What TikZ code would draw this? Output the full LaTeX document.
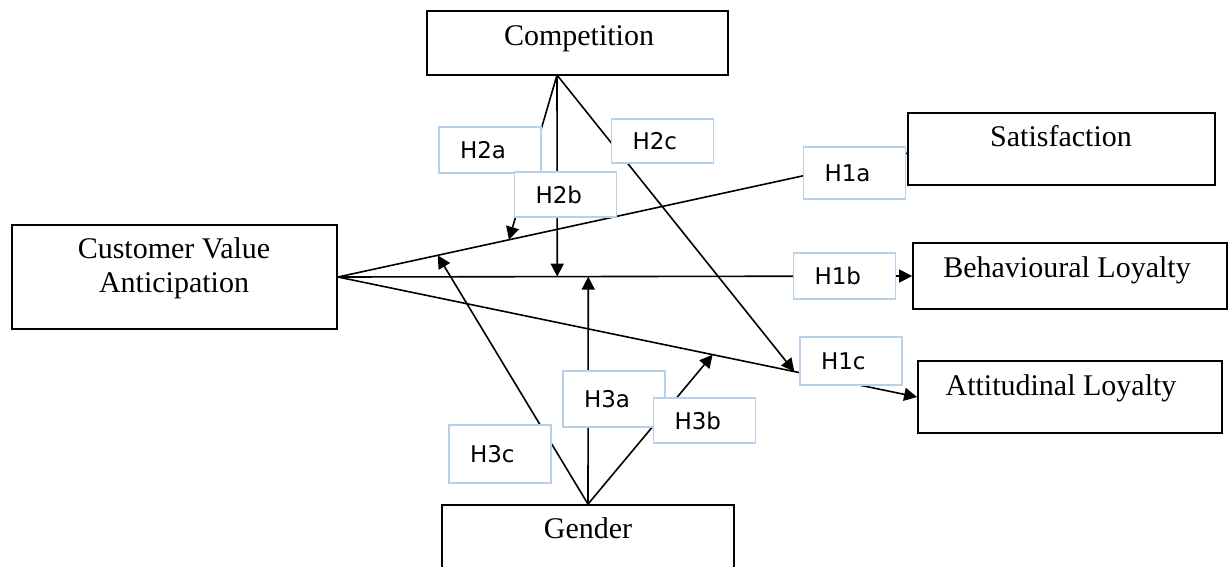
\documentclass[tikz,border=0pt]{standalone}
\usepackage{fontspec}
\setmainfont{Liberation Serif}
\newfontfamily\hypfont{DejaVu Sans}
\usetikzlibrary{arrows.meta}
\definecolor{hypblue}{RGB}{185,208,236}

\begin{document}
\begin{tikzpicture}[x=1pt,y=-1pt,
  construct/.style={draw,line width=1.8pt,inner sep=0pt},
  ctext/.style={font=\fontsize{30}{34}\selectfont,anchor=base,align=center},
  hyp/.style={draw=hypblue,line width=1.2pt,fill=white,
    font=\hypfont\fontsize{23}{26}\selectfont,align=left,
    text width=60pt,inner xsep=21pt,inner ysep=0pt,minimum height=#1},
  link/.style={line width=1.6pt,-{Triangle[length=13pt,width=13pt]}}]
\clip (0,0) rectangle (1229,566);

\node[construct,minimum width=301pt,minimum height=64pt] (comp) at (577.5,43) {};
\node[construct,minimum width=307pt,minimum height=72pt] (sat) at (1061.5,149) {};
\node[construct,minimum width=314pt,minimum height=66pt] (beh) at (1070,276) {};
\node[construct,minimum width=304pt,minimum height=72pt] (att) at (1070,397) {};
\node[construct,minimum width=325pt,minimum height=104pt] (cva) at (174.5,277) {};
\node[construct,minimum width=292pt,minimum height=110pt] (gen) at (588,560) {};

\node[ctext] (comp-t) at (579,45) {Competition};
\node[ctext] (sat-t) at (1061,146) {Satisfaction};
\node[ctext] (beh-t) at (1067,277) {Behavioural Loyalty};
\node[ctext] (att-t) at (1061,395) {Attitudinal Loyalty};
\node[ctext,anchor=center] (cva-t) at (174,268) {Customer Value\\Anticipation};
\node[ctext] (gen-t) at (588,538) {Gender};

\coordinate (c-out) at (557,75);
\coordinate (s-in) at (908,153);
\path (cva.east) -- (s-in) coordinate[pos=0.175] (m3c) coordinate[pos=0.30] (m2a);
\path (cva.east) -- (beh.west) coordinate[pos=0.382] (m2b) coordinate[pos=0.436] (m3a);
\path (cva.east) -- (att.west) coordinate[pos=0.647] (m3b) coordinate[pos=0.788] (m2c);

\draw[link] (cva.east) -- (s-in);
\draw[link] (cva.east) -- (beh.west);
\draw[link] (cva.east) -- (att.west);
\draw[link] (c-out) -- (m2a);
\draw[link] (c-out) -- (m2b);
\draw[link] (c-out) -- (m2c);
\draw[link] (gen.north) -- (m3a);
\draw[link] (gen.north) -- (m3b);
\draw[link] (gen.north) -- (m3c);

\node[hyp=46pt] (h2a) at (490,150) {H2a};
\node[hyp=44pt] (h2c) at (662.5,141) {H2c};
\node[hyp=45pt] (h2b) at (565.5,194.5) {H2b};
\node[hyp=52pt] (h1a) at (854.5,173) {H1a};
\node[hyp=46pt] (h1b) at (844.5,276) {H1b};
\node[hyp=48pt] (h1c) at (851,361) {H1c};
\node[hyp=56pt] (h3a) at (614,399) {H3a};
\node[hyp=45pt] (h3b) at (704.5,420.5) {H3b};
\node[hyp=58pt] (h3c) at (500,454) {H3c};
\end{tikzpicture}
\end{document}
